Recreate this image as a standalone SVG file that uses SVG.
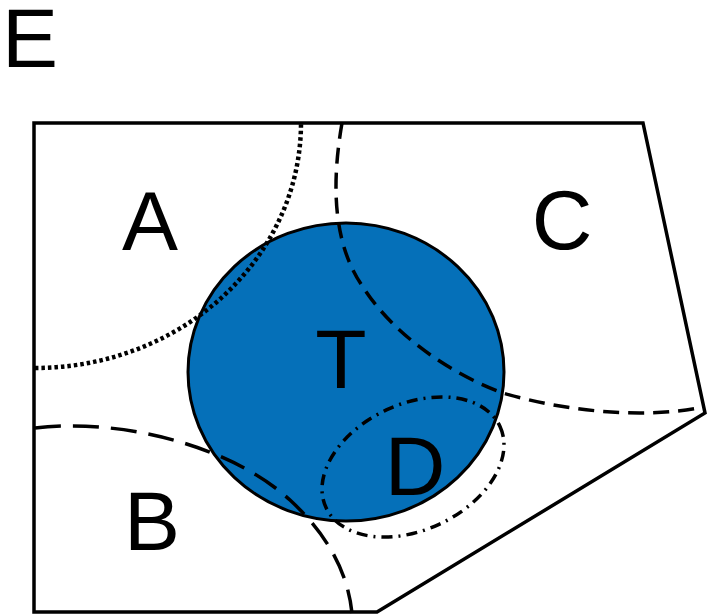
<svg xmlns="http://www.w3.org/2000/svg" width="707" height="615" viewBox="0 0 707 615">
  <style>
    .lbl { font-family: "Liberation Sans", Arial, sans-serif; font-size: 84px; fill: #000; text-anchor: middle; }
    .dotted { fill: none; stroke: #000; stroke-width: 4.5; stroke-dasharray: 3.5 3; }
    .dash-long { fill: none; stroke: #000; stroke-width: 3.5; stroke-dasharray: 26 12; }
    .dash-short { fill: none; stroke: #000; stroke-width: 3.5; stroke-dasharray: 16 9; }
    .dash-dot { fill: none; stroke: #000; stroke-width: 3.5; stroke-dasharray: 11 6 2 6; }
  </style>

  <!-- panel letter -->
  <text class="lbl" x="2" y="67" style="text-anchor:start">E</text>

  <!-- outer field boundary -->
  <g id="field">
    <polygon points="34,123 643,123 705,413 377,612 34,612" fill="#fff" stroke="#000" stroke-width="3.5" stroke-linejoin="miter"/>
  </g>

  <!-- central region T -->
  <g id="region-T">
    <ellipse cx="346" cy="372" rx="158" ry="149" fill="#0570b9" stroke="#000" stroke-width="3"/>
    <text class="lbl" x="341" y="388">T</text>
  </g>

  <!-- boundary curves of the surrounding regions -->
  <g id="region-A">
    <path class="dotted" d="M35,368 A266,245 0 0 0 301,123"/>
    <text class="lbl" x="150" y="250">A</text>
  </g>

  <g id="region-B">
    <path class="dash-long" d="M35,428 C120,418 230,445 290,500 C330,537 348,575 352,613"/>
    <text class="lbl" x="152" y="550">B</text>
  </g>

  <g id="region-C">
    <path class="dash-short" d="M342,123 C333,175 330,240 363,287 C390,330 445,372 503,393 C560,410 640,420 704,407"/>
    <text class="lbl" x="562" y="249">C</text>
  </g>

  <g id="region-D">
    <ellipse class="dash-dot" cx="413" cy="467" rx="96" ry="63" transform="rotate(-25 413 467)"/>
    <text class="lbl" x="415" y="495">D</text>
  </g>
</svg>
